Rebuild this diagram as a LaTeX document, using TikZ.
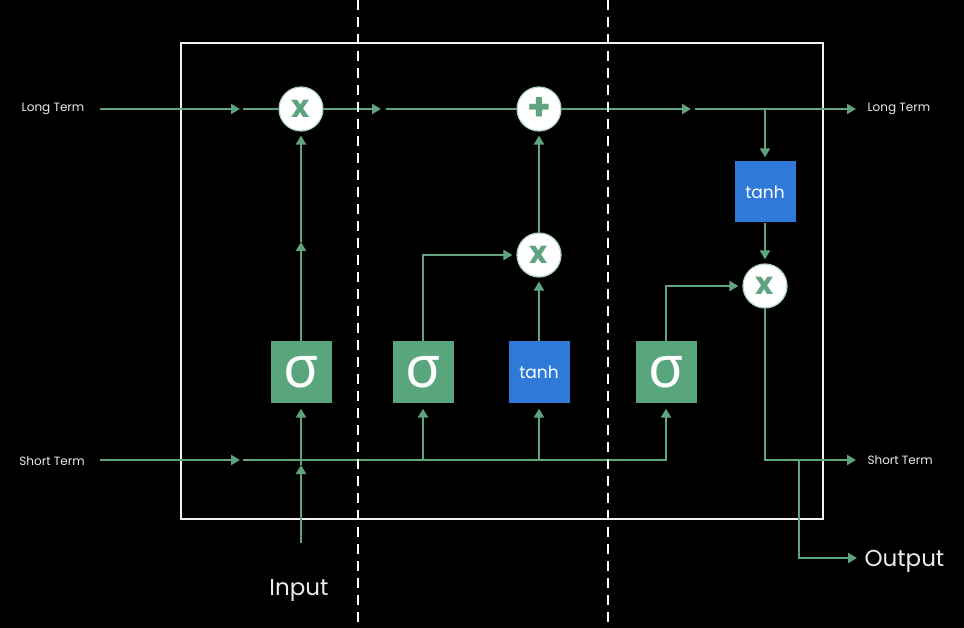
\documentclass[tikz,border=0pt]{standalone}
\usepackage{fontspec}
\setmainfont{Poppins}
\newfontfamily\grk{Noto Sans}
\usetikzlibrary{arrows.meta}
\definecolor{lgreen}{HTML}{5FA37F}
\definecolor{bgreen}{HTML}{5AA67C}
\definecolor{tblue}{HTML}{2F7AD8}
\begin{document}
\begin{tikzpicture}[x=1pt,y=-1pt,
 flow/.style={draw=lgreen,line width=2.5pt},
 tip/.style={-{Triangle[length=9pt,width=10pt]},shorten >=2pt},
 sig/.style={fill=bgreen,minimum size=61pt,inner sep=0pt,font=\grk\fontsize{58}{58}\selectfont,text=white},
 tbox/.style={fill=tblue,minimum size=61pt,inner sep=0pt,font=\fontsize{17}{17}\selectfont,text=white},
 op/.style={circle,fill=white,draw=lgreen!50,line width=1.2pt,minimum size=44pt,inner sep=0pt,text=lgreen,font=\bfseries\fontsize{31}{31}\selectfont},
 small/.style={text=white!92!black,font=\fontsize{12}{12}\selectfont},
 big/.style={text=white!92!black,font=\fontsize{23}{23}\selectfont}]
\fill[black] (0,0) rectangle (964,628);
\useasboundingbox (0,0) rectangle (964,628);
% frame
\draw[white!88!gray,line width=2pt] (181,43) rectangle (823,519);
% nodes
\node[small] (ltin) at (53,109) {Long Term};
\node[small] (stin) at (52,461) {Short Term};
\node[small,anchor=west] (ltout) at (864,109) {Long Term};
\node[small,anchor=west] (stout) at (864,460) {Short Term};
\node[big] (inp) at (299,590) {Input};
\node[big,anchor=west] (outp) at (861,561) {Output};
\node[op] (m1) at (301,109) {x};
\node[op,font=\bfseries\fontsize{38}{38}\selectfont] (pl) at (539,109) {+};
\node[op] (m2) at (539,255) {x};
\node[op] (m3) at (765,286) {x};
\node[sig] (s1) at (301,372) {σ};
\node[sig] (s2) at (423,372) {σ};
\node[tbox] (t1) at (539,372) {tanh};
\node[sig] (s3) at (666,372) {σ};
\node[tbox] (t2) at (765,192) {tanh};
% coordinates
\coordinate (lt0) at (100,109);
\coordinate (lt1) at (242,109);
\coordinate (lt1b) at (243,109);
\coordinate (lt2) at (383,109);
\coordinate (lt2b) at (386,109);
\coordinate (lt3) at (693,109);
\coordinate (lt3b) at (695,109);
\coordinate (jt) at (765,109);
\coordinate (lt4) at (858,109);
\coordinate (st0) at (100,460);
\coordinate (st1) at (242,460);
\coordinate (st1b) at (243,460);
\coordinate (st2) at (666,460);
\coordinate (b2) at (423,460);
\coordinate (b3) at (539,460);
\coordinate (in0) at (301,543);
\coordinate (in1) at (301,465);
\coordinate (v1) at (301,242);
\coordinate (r1) at (765,460);
\coordinate (r2) at (799,460);
\coordinate (r3) at (799,558);
\coordinate (st4) at (858,460);
\coordinate (o4) at (859,558);
% long term
\draw[flow,tip] (lt0) -- (lt1);
\draw[flow] (lt1b) -- (m1);
\draw[flow,tip] (m1) -- (lt2);
\draw[flow] (lt2b) -- (pl);
\draw[flow,tip] (pl) -- (lt3);
\draw[flow,tip] (lt3b) -- (lt4);
\draw[flow,tip,shorten >=4pt] (jt) -- (t2);
\draw[flow,tip,shorten >=4pt] (t2) -- (m3);
% short term
\draw[flow,tip] (st0) -- (st1);
\draw[flow,tip,shorten >=6pt] (st1b) -- (st2) -- (s3);
\draw[flow,tip,shorten >=6pt] (b2) -- (s2);
\draw[flow,tip,shorten >=6pt] (b3) -- (t1);
\draw[flow,tip,shorten >=0pt] (in0) -- (in1);
\draw[flow,tip,shorten >=6pt] (in1) -- (s1);
% gates
\draw[flow,tip,shorten >=0pt] (s1) -- (v1);
\draw[flow,tip,shorten >=4pt] (v1) -- (m1);
\draw[flow,tip,shorten >=4pt] (s2) |- (m2);
\draw[flow,tip,shorten >=4pt] (t1) -- (m2);
\draw[flow,tip,shorten >=4pt] (m2) -- (pl);
\draw[flow,tip,shorten >=4pt] (s3) |- (m3);
% outputs
\draw[flow,tip] (m3) -- (r1) -- (st4);
\draw[flow,tip] (r2) -- (r3) -- (o4);
% dashed separators
\draw[white,line width=2.5pt,dash pattern=on 10pt off 7pt] (358,0) -- (358,628);
\draw[white,line width=2.5pt,dash pattern=on 10pt off 7pt] (608,0) -- (608,628);
\end{tikzpicture}
\end{document}
